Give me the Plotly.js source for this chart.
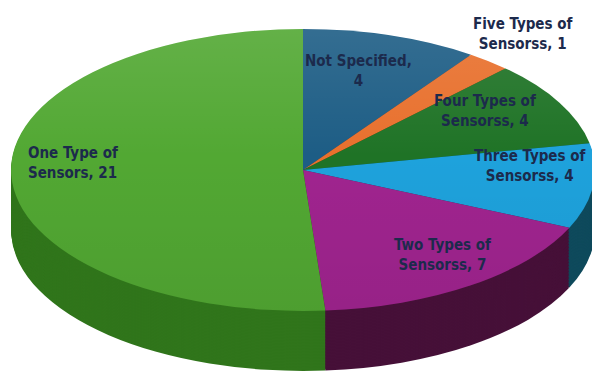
<!DOCTYPE html>
<html>
<head>
<meta charset="utf-8">
<script src="https://cdn.plot.ly/plotly-3.0.1.min.js"></script>
<style>
  html, body { margin: 0; padding: 0; background: #ffffff; }
  #wrap { position: relative; width: 592px; height: 373px; overflow: hidden; background: #ffffff; }
  #pie { position: absolute; transform-origin: 0 0; }
  #shade { position: absolute; border-radius: 50%; pointer-events: none;
           background: linear-gradient(to bottom, rgba(255,255,255,0.10) 0%, rgba(255,255,255,0.0) 45%, rgba(0,0,0,0.06) 100%); }
  #labels { position: absolute; left: 0; top: 0; width: 592px; height: 373px; }
</style>
</head>
<body>
<div id="wrap">
  <div id="pie"></div>
  <div id="shade"></div>
  <div id="labels"></div>
</div>
<script>
// ---- data ----
const categories = ["Not Specified", "Five Types of Sensorss", "Four Types of Sensorss",
                    "Three Types of Sensorss", "Two Types of Sensorss", "One Type of Sensors"];
const values = [4, 1, 4, 4, 7, 21];

// ---- styles ----
const topColors  = ["#1d5d85", "#e8702d", "#1f7326", "#1ea2dc", "#a0248f", "#52a833"];
const sideColors = ["#0e3a55", "#8a3f15", "#124416", "#0f4a5c", "#461038", "#30751b"];

// geometry of the tilted pie (screen px)
const cx = 303, cy = 170, a = 292, b = 141, thick = 60;
const r = 200;                       // pie radius inside the unscaled div
const sx = a / r, sy = b / r;
const T = thick / sy;                // extrusion in unscaled px
const W = 2 * r, H = 2 * r + T;

const pieDiv = document.getElementById('pie');
pieDiv.style.width = W + 'px';
pieDiv.style.height = H + 'px';
pieDiv.style.left = (cx - a) + 'px';
pieDiv.style.top = (cy - b) + 'px';
pieDiv.style.transform = 'scale(' + sx + ',' + sy + ')';

const shade = document.getElementById('shade');
shade.style.left = (cx - a) + 'px';
shade.style.top = (cy - b) + 'px';
shade.style.width = (2 * a) + 'px';
shade.style.height = (2 * b) + 'px';

const traces = [];
const nLayers = 40;
const hFrac = 2 * r / H;
for (let k = 0; k < nLayers; k++) {
  const y0 = (T / H) * (k / nLayers);
  traces.push({
    type: 'pie', labels: categories, values: values, sort: false,
    direction: 'clockwise', rotation: 0, textinfo: 'none', hoverinfo: 'skip',
    marker: { colors: sideColors, line: { width: 0 } },
    domain: { x: [0, 1], y: [y0, y0 + hFrac] }
  });
}
traces.push({
  type: 'pie', labels: categories, values: values, sort: false,
  direction: 'clockwise', rotation: 0, textinfo: 'none', hoverinfo: 'skip',
  marker: { colors: topColors, line: { width: 0 } },
  domain: { x: [0, 1], y: [T / H, 1] }
});

Plotly.newPlot(pieDiv, traces, {
  width: W, height: H, margin: { l: 0, r: 0, t: 0, b: 0 },
  showlegend: false, paper_bgcolor: 'rgba(0,0,0,0)', plot_bgcolor: 'rgba(0,0,0,0)',
  hovermode: false
}, { staticPlot: true });

// ---- labels ----
function labelText(i) {
  const c = categories[i];
  if (c.indexOf(' of ') >= 0) return c.replace(' of ', ' of<br>') + ', ' + values[i];
  return c + ',<br>' + values[i];
}
const labelPos = [[358, 71, 'center'], [523, 34, 'center'], [485, 111, 'center'],
                  [530, 166, 'center'], [442, 255, 'center'], [26, 163, 'left']];
const annotations = categories.map((c, i) => ({
  x: labelPos[i][0], y: labelPos[i][1], xref: 'x', yref: 'y',
  text: labelText(i), showarrow: false,
  xanchor: labelPos[i][2] === 'left' ? 'left' : 'center', yanchor: 'middle',
  align: labelPos[i][2],
  font: { family: 'DejaVu Sans Condensed, Roboto, sans-serif',
          size: 15, color: '#1c2a4c', weight: 'bold' }
}));

Plotly.newPlot('labels', [], {
  width: 592, height: 373, margin: { l: 0, r: 0, t: 0, b: 0 },
  paper_bgcolor: 'rgba(0,0,0,0)', plot_bgcolor: 'rgba(0,0,0,0)',
  xaxis: { range: [0, 592], visible: false, fixedrange: true },
  yaxis: { range: [373, 0], visible: false, fixedrange: true },
  annotations: annotations, showlegend: false
}, { staticPlot: true });
</script>
</body>
</html>
